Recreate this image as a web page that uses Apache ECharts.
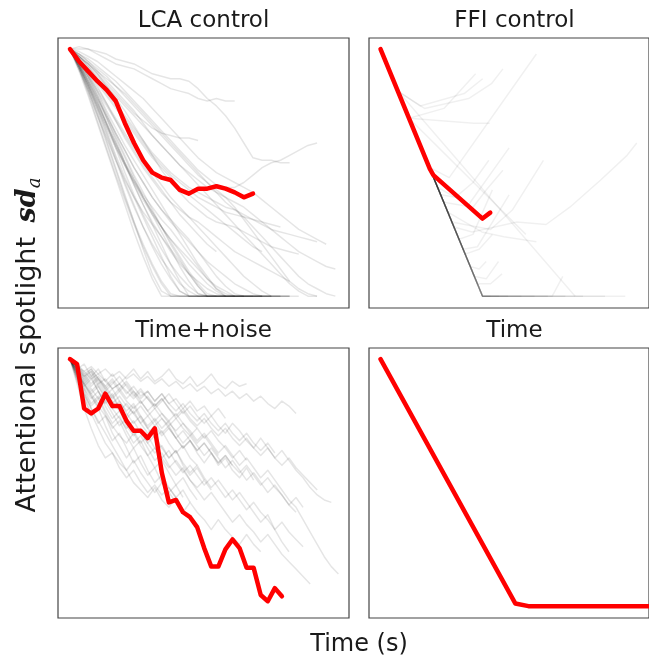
<!DOCTYPE html>
<html>
<head>
<meta charset="utf-8">
<script src="https://cdn.jsdelivr.net/npm/echarts@6/dist/echarts.min.js"></script>
<style>
  html, body { margin: 0; padding: 0; background: #fff; }
  #chartDiv { width: 649px; height: 660px; }
</style>
</head>
<body>
<div id="chartDiv"></div>
<script type="text/javascript">
  var panelTitles = ['LCA control', 'FFI control', 'Time+noise', 'Time'];
  var xAxisLabel = 'Time (s)';
  var yAxisLabel = 'Attentional spotlight';

  // LCA control: one value per time step
  var lcaMean = [1.0, .95, .91, .87, .835, .79, .70, .62, .55, .50, .48, .47, .43, .415, .435, .435, .445, .435, .42, .40, .415];
  var lcaTrials = [
    [1, .93, .84, .74, .63, .52, .41, .30, .19, .09, .02, 0, 0, 0, 0, 0, 0],
    [1, .92, .82, .71, .60, .49, .39, .29, .20, .12, .05, 0, 0, 0, 0, 0, 0, 0, 0],
    [1, .94, .86, .77, .67, .57, .48, .40, .32, .24, .16, .08, .02, 0, 0, 0, 0, 0, 0, 0, 0],
    [1, .95, .88, .80, .72, .64, .56, .48, .40, .33, .26, .19, .12, .06, .01, 0, 0, 0, 0, 0, 0, 0, 0, 0],
    [1, .93, .85, .76, .68, .60, .53, .46, .40, .34, .28, .22, .16, .10, .05, .01, 0, 0, 0],
    [1, .92, .83, .73, .64, .55, .47, .40, .34, .29, .24, .19, .14, .09, .04, 0, 0, 0, 0, 0, 0, 0],
    [1, .96, .90, .83, .75, .68, .61, .55, .49, .43, .37, .31, .25, .19, .13, .08, .03, 0, 0, 0, 0, 0, 0, 0],
    [1, .94, .87, .79, .70, .62, .54, .47, .41, .36, .31, .27, .22, .17, .12, .07, .03, .01, 0, 0],
    [1, .95, .89, .82, .74, .66, .59, .52, .46, .40, .35, .31, .27, .23, .18, .13, .08, .04, .01, 0, 0, 0, 0],
    [1, .93, .85, .77, .69, .61, .53, .45, .37, .29, .21, .13, .06, 0, 0, 0],
    [1, .96, .91, .85, .78, .71, .64, .58, .52, .47, .42, .38, .35, .32, .30, .27, .24, .21, .18, .16, .14, .12, .10, .08, .06],
    [1, .97, .93, .88, .83, .78, .73, .68, .63, .58, .54, .50, .47, .44, .42, .40, .38, .36, .35, .33, .31, .29, .27, .26, .25, .24, .23, .22],
    [1, .98, .95, .91, .87, .83, .79, .75, .70, .65, .61, .57, .53, .50, .47, .44, .42, .40, .38, .36, .33, .30, .27, .24, .21, .18, .16, .14, .12, .11],
    [1, .97, .94, .91, .88, .85, .82, .78, .74, .70, .66, .62, .58, .54, .50, .46, .42, .38, .35, .32, .28, .24, .20, .16, .12, .08, .05, .03, .01, 0],
    [1, 1.0, 1.0, .99, .98, .96, .95, .94, .92, .90, .89, .88, .88, .87, .84, .80, .77, .73, .68, .62, .56, .55, .55, .54, .54],
    [1, 1.01, 1.0, .98, .96, .94, .93, .92, .90, .88, .86, .84, .83, .82, .80, .79, .80, .79, .79],
    [1, .98, .96, .93, .90, .87, .83, .79, .75, .71, .67, .63, .59, .55, .51, .48, .45, .44, .44, .46, .49, .52, .54, .55, .57, .59, .61, .62],
    [1, .97, .94, .90, .86, .82, .78, .74, .71, .68, .66, .65, .64, .64, .63],
    [1, .96, .91, .86, .81, .76, .71, .66, .61, .56, .52, .48, .44, .41, .38, .35, .32, .29, .26, .23, .20, .18],
    [1, .95, .89, .83, .77, .71, .65, .59, .53, .48, .43, .38, .33, .29, .25, .21, .18],
    [1, .97, .93, .89, .85, .81, .77, .73, .69, .65, .61, .57, .53, .49, .45, .41, .37, .33, .29, .25, .21, .17, .13, .09, .05, .02, 0, 0],
    [1, .96, .92, .87, .82, .77, .72, .67, .62, .57, .53, .49, .46, .43, .40, .38, .36, .34, .33, .32, .31, .30, .29, .28],
    [1, .98, .95, .92, .89, .85, .81, .77, .73, .69, .65, .61, .57, .53, .49, .46, .43, .40, .36, .31, .26, .21, .16, .11, .06, .03, .01, 0],
    [1, .95, .90, .84, .78, .72, .66, .60, .55, .50, .45, .40, .36, .32, .28, .24, .20, .16, .12, .08, .05, .02, 0, 0, 0],
    [1, .99, .97, .95, .92, .89, .86, .83, .80, .76, .72, .68, .64, .60, .56, .53, .50, .48, .46, .44, .42, .39, .36, .33, .30, .27, .25, .23, .21],
    [1, .94, .87, .80, .73, .66, .59, .52, .46, .40, .35, .30, .26, .22, .18, .14, .11, .08, .05, .03, .01, 0, 0, 0, 0],
    [1, .93, .86, .78, .70, .62, .54, .47, .40, .34, .28, .23, .18, .13, .09, .05, .02, 0, 0, 0, 0, 0, 0],
    [1, .94, .88, .81, .73, .65, .57, .49, .42, .35, .28, .21, .15, .09, .04, 0, 0, 0],
    [1, .91, .81, .70, .59, .48, .37, .26, .16, .07, 0, 0, 0, 0, 0, 0, 0, 0],
    [1, .97, .94, .90, .85, .80, .75, .69, .63, .57, .51, .46, .42, .38, .35, .32, .30, .29, .28, .26, .24, .22, .20, .19, .18, .17],
    [1, .92, .83, .73, .62, .51, .40, .30, .21, .13, .06, .01, 0, 0, 0, 0, 0, 0, 0, 0, 0, 0],
    [1, .93, .85, .76, .66, .56, .46, .37, .28, .20, .13, .07, .02, 0, 0, 0, 0, 0, 0, 0],
    [1, .94, .87, .79, .70, .60, .50, .41, .33, .26, .19, .13, .08, .04, .01, 0, 0, 0, 0, 0, 0, 0, 0],
    [1, .92, .84, .75, .65, .55, .45, .36, .28, .21, .15, .10, .05, .02, 0, 0, 0, 0, 0, 0, 0, 0, 0, 0, 0],
    [1, .95, .89, .81, .72, .63, .54, .45, .37, .30, .24, .18, .13, .09, .06, .03, .01, 0, 0, 0, 0, 0],
    [1, .93, .86, .78, .69, .61, .53, .46, .39, .33, .28, .23, .19, .15, .11, .07, .04, .02, 0, 0, 0, 0, 0, 0, 0, 0]
  ];

  // FFI control: [time, sd] pairs
  var ffiMean = [[0, 1], [5.6, .515], [6.0, .49], [11.58, .314], [12.46, .338]];
  var ffiTrials = [
    [[0, 1], [11.58, 0], [12.5, 0]],
    [[0, 1], [11.58, 0], [13.5, 0]],
    [[0, 1], [11.58, 0], [14.5, 0]],
    [[0, 1], [11.58, 0], [16, 0]],
    [[0, 1], [11.58, 0], [17.5, 0]],
    [[0, 1], [11.58, 0], [19, 0]],
    [[0, 1], [11.58, 0], [21, 0]],
    [[0, 1], [11.58, 0], [23, 0]],
    [[0, 1], [11.58, 0], [25.5, 0]],
    [[0, 1], [11.58, 0], [27.8, 0]],
    [[0, 1], [1.97, .83], [3.24, .72], [7.2, .76], [10.8, .90]],
    [[0, 1], [3.24, .72], [10.6, .70], [12.4, .70]],
    [[0, 1], [1.97, .83], [4.5, .77], [9.5, .82], [11.6, .88]],
    [[0, 1], [1.97, .83], [5, .76], [10, .80], [12.6, .86], [13.9, .92]],
    [[0, 1], [5.6, .52], [7.8, .48], [17.7, .98]],
    [[0, 1], [1.97, .83], [22.1, 0]],
    [[0, 1], [3.24, .72], [16.5, .25]],
    [[0, 1], [6.48, .44], [10, .37], [14.6, .6]],
    [[0, 1], [7.18, .38], [10.5, .36], [12, .43], [13.9, .51]],
    [[0, 1], [8.1, .30], [12.5, .27], [15, .35], [18.5, .55]],
    [[0, 1], [8.34, .28], [10.4, .26], [15.5, .30], [18.8, .29], [21.5, .36], [25, .47], [28, .57], [29.1, .62]],
    [[0, 1], [8.92, .23], [10.5, .25], [12.7, .43]],
    [[0, 1], [9.38, .19], [11, .20], [14.6, .41]],
    [[0, 1], [7.64, .34], [11.5, .26], [14, .24], [17.7, .22]],
    [[0, 1], [10.19, .12], [11.2, .11], [12, .14]],
    [[0, 1], [11.0, .05], [12.5, .05], [13.8, .09]],
    [[0, 1], [11.58, 0], [19.5, 0], [20.7, .08]],
    [[0, 1], [9.61, .17], [11.2, .19], [12.7, .25]],
    [[0, 1], [10.65, .08], [12, .07], [13.4, .14]],
    [[0, 1], [6.83, .41], [8.5, .40], [10.5, .46], [12.3, .55]]
  ];

  // Time+noise: one value per time step
  var noiseMean = [1.0, .98, .80, .78, .80, .86, .81, .81, .75, .71, .71, .68, .72, .54, .42, .43, .38, .36, .32, .235, .16, .16, .23, .27, .235, .155, .155, .045, .02, .073, .04];
  var noiseTrials = [
    [1, .97, .93, .95, .90, .92, .88, .90, .86, .89, .85, .87, .83, .86, .82, .84, .80, .83, .79, .81, .77, .80, .76],
    [1, .96, .98, .93, .96, .91, .94, .90, .93, .96, .92, .95, .91, .93, .96, .92, .90, .93, .89, .91, .94, .90, .88, .91, .89, .90],
    [1, .95, .90, .93, .87, .83, .86, .80, .77, .81, .76, .72, .75, .70, .73, .68, .64, .67, .62, .58, .62, .57, .60, .55, .52, .56, .51],
    [1, .94, .88, .84, .87, .81, .76, .79, .73, .69, .72, .66, .62, .65, .60, .63, .57, .53, .56, .51],
    [1, .93, .86, .80, .74, .77, .70, .65, .60, .64, .58, .53, .56, .50, .46, .49, .44],
    [1, .96, .92, .95, .91, .87, .90, .93, .89, .85, .88, .84, .80, .83, .86, .82, .78, .81, .77, .74, .77, .73, .70, .74, .71, .67, .64, .68, .64, .60, .63, .59, .55, .52, .48, .45, .43, .42],
    [1, .92, .85, .78, .72, .66, .62, .58, .55, .50, .47, .44, .48, .43, .40, .44, .39],
    [1, .97, .94, .90, .93, .89, .85, .88, .84, .87, .83, .79, .82, .78, .75, .78, .74, .71, .67, .70, .66, .62, .65, .61, .57, .60, .56, .52, .55, .51, .47, .43, .40, .35, .30, .25, .20, .16, .13],
    [1, .95, .91, .87, .90, .86, .82, .85, .81, .78, .81, .77, .80, .76, .73, .76, .72, .69, .72, .68, .71, .67, .64, .60, .63, .59],
    [1, .94, .90, .86, .82, .85, .80, .76, .72, .75, .70, .66, .69, .64, .60, .63, .58, .54, .57, .52, .48, .51, .47, .43, .46, .42, .38, .34, .37, .31, .26, .22],
    [1, .98, .95, .97, .94, .96, .93, .95, .92, .94, .91, .93, .90, .92, .89, .91, .88, .90, .87, .89, .86, .88, .85, .87, .84, .86, .83, .85, .82, .80, .83, .81, .78],
    [1, .93, .87, .81, .84, .78, .72, .75, .69, .64, .67, .61, .56, .59, .54, .49, .52, .47, .43],
    [1, .95, .89, .85, .80, .83, .78, .73, .76, .71, .66, .69, .64, .60, .63, .58, .54, .57, .53, .49, .52, .48, .44, .47, .43, .39, .42, .38, .35, .31, .34, .30, .27, .24],
    [1, .96, .92, .88, .84, .87, .83, .79, .82, .78, .74, .77, .73, .76, .72, .68, .71, .67, .63, .66, .62, .58, .61, .57],
    [1, .91, .84, .77, .80, .73, .67, .70, .64, .58, .61, .55, .50, .53, .48, .44, .47, .42],
    [1, .97, .93, .96, .92, .88, .91, .87, .90, .86, .82, .85, .81, .84, .80, .76, .79, .75, .72],
    [1, .94, .89, .92, .87, .82, .85, .80, .76, .79, .74, .70, .73, .69, .72, .68, .64, .67, .63, .66, .62, .58, .61, .57, .54, .57, .53, .49, .52, .48, .45, .41, .44, .40],
    [1, .95, .90, .85, .81, .77, .73, .69, .66, .70, .65, .61, .64, .60, .56, .59, .55, .51, .48, .51, .47],
    [1, .98, .94, .96, .92, .89, .92, .88, .91, .87, .84, .87, .83, .86, .82, .79, .82, .78, .75, .78, .74, .71, .74, .70, .67, .70, .66, .63, .66, .62],
    [1, .92, .86, .80, .75, .70, .65, .60, .55, .59, .54, .50, .46, .50, .46, .42, .38, .42, .38, .35, .31, .35, .31, .28, .25, .29, .25, .22],
    [1, .96, .93, .89, .92, .88, .84, .87, .83, .80, .83, .79, .75, .78, .74, .71, .74, .70, .66, .69, .65, .61],
    [1, .93, .88, .82, .85, .79, .74, .77, .71, .66, .69, .64, .59, .62, .57, .53, .56, .51, .47, .43, .46, .42, .38, .34, .37, .33, .30, .26, .29, .25, .21, .18, .15, .12, .09],
    [1, .97, .95, .92, .94, .91, .88, .90, .87, .84, .87, .84, .81, .84, .80, .77, .80, .76, .73, .76, .72, .69, .72, .68, .65, .68, .64, .61, .64, .60, .57, .60, .56, .53, .50, .47],
    [1, .94, .90, .86, .89, .84, .80, .83, .78, .74, .77, .72, .68, .71, .66, .62, .65, .60, .57],
    [1, .96, .91, .94, .89, .85, .88, .83, .79, .82, .77, .73, .76, .72, .75, .70, .66, .69, .65, .61, .64, .60, .56, .59, .55, .51, .54, .50, .46, .49, .45, .41, .38],
    [1, .90, .80, .72, .65, .60, .62, .56, .52, .55, .50, .46, .49, .45, .48, .44]
  ];

  // Time: [time, sd] pairs
  var timeMean = [[0, 1], [15.3, .011], [16.8, 0], [30.5, 0]];

  function stepPairs(values) {
    var pts = [];
    for (var i = 0; i < values.length; i++) {
      pts.push([i, values[i]]);
    }
    return pts;
  }

  var greyStyle = { color: 'rgba(0,0,0,0.1)', width: 1.5, join: 'round' };
  var ffiGreyStyle = { color: 'rgba(0,0,0,0.06)', width: 1.5, join: 'round' };
  var redStyle = { color: '#ff0000', width: 4.5, join: 'round', cap: 'round' };

  var seriesList = [];
  function addLine(panel, points, style, z) {
    seriesList.push({
      type: 'line',
      xAxisIndex: panel,
      yAxisIndex: panel,
      data: points,
      symbol: 'none',
      silent: true,
      z: z,
      lineStyle: style
    });
  }

  lcaTrials.forEach(function (t) { addLine(0, stepPairs(t), greyStyle, 2); });
  addLine(0, stepPairs(lcaMean), redStyle, 3);
  ffiTrials.forEach(function (t) { addLine(1, t, ffiGreyStyle, 2); });
  addLine(1, ffiMean, redStyle, 3);
  noiseTrials.forEach(function (t) { addLine(2, stepPairs(t), greyStyle, 2); });
  addLine(2, stepPairs(noiseMean), redStyle, 3);
  addLine(3, timeMean, redStyle, 3);

  // panel boxes in pixels
  var gridBoxes = [
    { left: 58, top: 38 },
    { left: 369, top: 38 },
    { left: 58, top: 348 },
    { left: 369, top: 348 }
  ];
  var xRanges = [[-1.31, 30.49], [-1.31, 30.49], [-1.7, 39.5], [-1.31, 30.49]];

  var grids = [], xAxes = [], yAxes = [], texts = [];
  for (var p = 0; p < 4; p++) {
    grids.push({
      left: gridBoxes[p].left, top: gridBoxes[p].top, width: 291, height: 270,
      show: true, borderColor: '#444', borderWidth: 1.2, backgroundColor: '#fff',
      containLabel: false
    });
    xAxes.push({
      type: 'value', gridIndex: p, min: xRanges[p][0], max: xRanges[p][1],
      axisLine: { show: false }, axisTick: { show: false }, axisLabel: { show: false }, splitLine: { show: false }
    });
    yAxes.push({
      type: 'value', gridIndex: p, min: -0.048, max: 1.045,
      axisLine: { show: false }, axisTick: { show: false }, axisLabel: { show: false }, splitLine: { show: false }
    });
    texts.push({
      type: 'text',
      x: gridBoxes[p].left + 145.5,
      y: gridBoxes[p].top - 17,
      style: {
        text: panelTitles[p],
        font: '23px "DejaVu Sans"',
        fill: '#1a1a1a',
        align: 'center',
        verticalAlign: 'middle'
      }
    });
  }

  texts.push({
    type: 'text',
    x: 359, y: 645,
    style: { text: xAxisLabel, font: '24px "DejaVu Sans"', fill: '#1a1a1a', align: 'center', verticalAlign: 'middle' }
  });
  texts.push({
    type: 'text',
    x: 28, y: 345,
    rotation: Math.PI / 2,
    style: {
      text: '{t|' + yAxisLabel + ' }{m|sd}{s|a}',
      align: 'center',
      verticalAlign: 'middle',
      fill: '#1a1a1a',
      rich: {
        t: { fontFamily: 'DejaVu Sans', fontSize: 27, fill: '#1a1a1a' },
        m: { fontFamily: 'DejaVu Serif', fontSize: 27, fontWeight: 'bold', fontStyle: 'italic', fill: '#1a1a1a', padding: [0, 0, 0, 6] },
        s: { fontFamily: 'DejaVu Serif', fontSize: 18, fontStyle: 'italic', fill: '#1a1a1a', verticalAlign: 'bottom', padding: [14, 0, 0, 0] }
      }
    }
  });

  var myChart = echarts.init(document.getElementById('chartDiv'), null, { renderer: 'canvas' });
  var option = {
    backgroundColor: '#fff',
    animation: false,
    grid: grids,
    xAxis: xAxes,
    yAxis: yAxes,
    series: seriesList,
    graphic: { elements: texts }
  };
  myChart.setOption(option);
</script>
</body>
</html>
